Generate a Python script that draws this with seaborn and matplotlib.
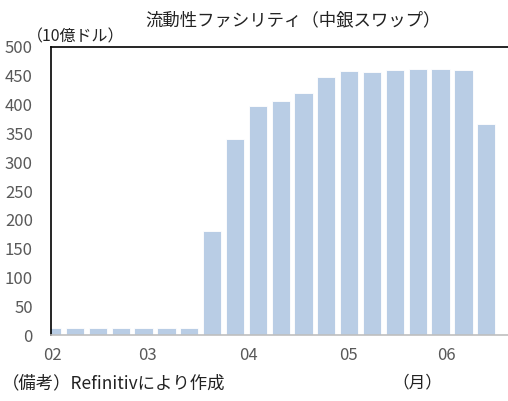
import matplotlib
matplotlib.use("Agg")
import matplotlib.pyplot as plt
import seaborn as sns
import pandas as pd

# Data (weekly, USD bn)
values = [12, 12, 12, 12, 12, 12, 12, 181, 340, 398, 406, 420, 448, 458,
          456, 460, 462, 461, 460, 366]
month_labels = ["02", "03", "04", "05", "06"]
month_tick_pos = [0, 4.15, 8.6, 12.95, 17.25]
y_ticks = [0, 50, 100, 150, 200, 250, 300, 350, 400, 450, 500]

title = "流動性ファシリティ（中銀スワップ）"
unit_label = "（10億ドル）"
note = "（備考）Refinitivにより作成"
month_unit = "（月）"

sns.set_theme(style="white")
plt.rcParams['font.family'] = ['Noto Sans CJK JP', 'DejaVu Sans']

df = pd.DataFrame({"week": list(range(len(values))), "value": values})

fig = plt.figure(figsize=(5.08, 4.01), dpi=100)
ax = fig.add_axes([51/508, 1-335/401, 1-51/508, (335-47)/401])

sns.barplot(data=df, x="week", y="value", color="#b9cde5", saturation=1,
            width=0.8, edgecolor="white", linewidth=0.6, ax=ax)

ax.set_xlim(-0.05, 19.95)
ax.set_ylim(0, 500)
ax.set_yticks(y_ticks)
ax.set_yticklabels([str(v) for v in y_ticks])
ax.set_xticks(month_tick_pos)
ax.set_xticklabels(month_labels)
ax.set_xlabel("")
ax.set_ylabel("")
ax.tick_params(axis="both", length=0, labelsize=12, labelcolor="#595959")
ax.tick_params(axis="y", pad=13)
ax.tick_params(axis="x", pad=9)

for s in ["left", "top"]:
    ax.spines[s].set_visible(True)
    ax.spines[s].set_color("black")
    ax.spines[s].set_linewidth(1.2)
ax.spines["right"].set_visible(False)
ax.spines["bottom"].set_color("#bfbfbf")
ax.spines["bottom"].set_linewidth(1.2)

fig.text(293/508, 1-20/401, title, ha="center", va="center", fontsize=12.5, color="#222222")
fig.text(27/508, 1-37/401, unit_label, ha="left", va="center", fontsize=11.5, color="#222222")
fig.text(2/508, 1-383/401, note, ha="left", va="center", fontsize=12.5, color="#222222")
fig.text(392/508, 1-383/401, month_unit, ha="left", va="center", fontsize=12, color="#222222")

fig.savefig("out.png", dpi=100)
